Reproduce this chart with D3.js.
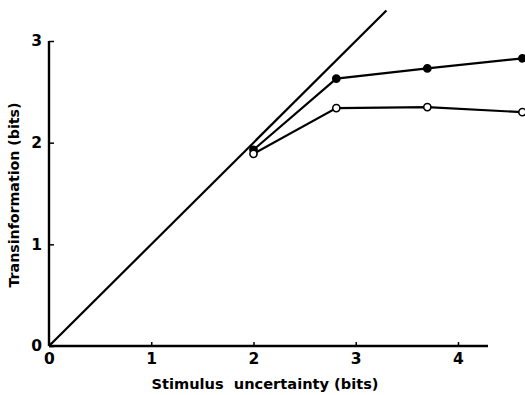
<!DOCTYPE html>
<html>
<head>
<meta charset="utf-8">
<script src="https://cdn.jsdelivr.net/npm/d3@7"></script>
<style>
  body { margin: 0; background: #fff; }
  text { font-family: "DejaVu Sans", sans-serif; font-weight: bold; fill: #000; }
</style>
</head>
<body>
<div id="chart"></div>
<script>
// Data
const stimulus = [2.0, 2.81, 3.7, 4.63];
const filledTrans = [1.93, 2.63, 2.73, 2.83];
const openTrans = [1.89, 2.34, 2.35, 2.3];
const diagonal = [0, 3.3];
const xTicks = [0, 1, 2, 3, 4];
const yTicks = [0, 1, 2, 3];

const width = 525;
const height = 395;

const svg = d3
  .select("#chart")
  .append("svg")
  .attr("width", width)
  .attr("height", height);

const x0 = 49;
const y0 = 346;

const xScale = d3.scaleLinear().domain([0, 4]).range([x0, 458]);
const yScale = d3.scaleLinear().domain([0, 3]).range([y0, 41]);

// Axes

const xAxis = svg
  .append("g")
  .attr("transform", `translate(0, ${y0})`)
  .call(d3.axisBottom(xScale).tickValues(xTicks).tickSize(-4).tickPadding(7).tickFormat(d3.format("d")));
xAxis.select(".domain").attr("d", `M${x0},0H488`).attr("stroke-width", 2.4);
xAxis.selectAll(".tick line").attr("stroke-width", 1.5);
xAxis.selectAll(".tick text").attr("font-size", 15.5).attr("dy", "0.71em");

const yAxis = svg
  .append("g")
  .attr("transform", `translate(${x0}, 0)`)
  .call(d3.axisLeft(yScale).tickValues(yTicks).tickSize(-5).tickPadding(7).tickFormat(d3.format("d")));
yAxis.select(".domain").attr("d", `M0,${y0}V41`).attr("stroke-width", 2.4);
yAxis.selectAll(".tick line").attr("stroke-width", 1.5);
yAxis.selectAll(".tick text").attr("font-size", 15.5);

svg
  .append("text")
  .attr("x", 265)
  .attr("y", 389)
  .attr("text-anchor", "middle")
  .attr("font-size", 14.6)
  .attr("xml:space", "preserve")
  .text("Stimulus  uncertainty (bits)");

svg
  .append("text")
  .attr("transform", "translate(19, 195) rotate(-90)")
  .attr("text-anchor", "middle")
  .attr("font-size", 14.2)
  .text("Transinformation (bits)");

// Lines

const line = d3
  .line()
  .x((d) => xScale(d[0]))
  .y((d) => yScale(d[1]));

svg
  .append("path")
  .datum(diagonal.map((d) => [d, d]))
  .attr("fill", "none")
  .attr("stroke", "#000")
  .attr("stroke-width", 2.2)
  .attr("d", line);

const series = [
  { values: filledTrans, fill: "#000" },
  { values: openTrans, fill: "#fff" },
];

series.forEach((s) => {
  const pts = stimulus.map((xv, i) => [xv, s.values[i]]);
  svg
    .append("path")
    .datum(pts)
    .attr("fill", "none")
    .attr("stroke", "#000")
    .attr("stroke-width", 2.2)
    .attr("d", line);
  svg
    .append("g")
    .selectAll("circle")
    .data(pts)
    .enter()
    .append("circle")
    .attr("cx", (d) => xScale(d[0]))
    .attr("cy", (d) => yScale(d[1]))
    .attr("r", 3.6)
    .attr("fill", s.fill)
    .attr("stroke", "#000")
    .attr("stroke-width", 1.6);
});
</script>
</body>
</html>
